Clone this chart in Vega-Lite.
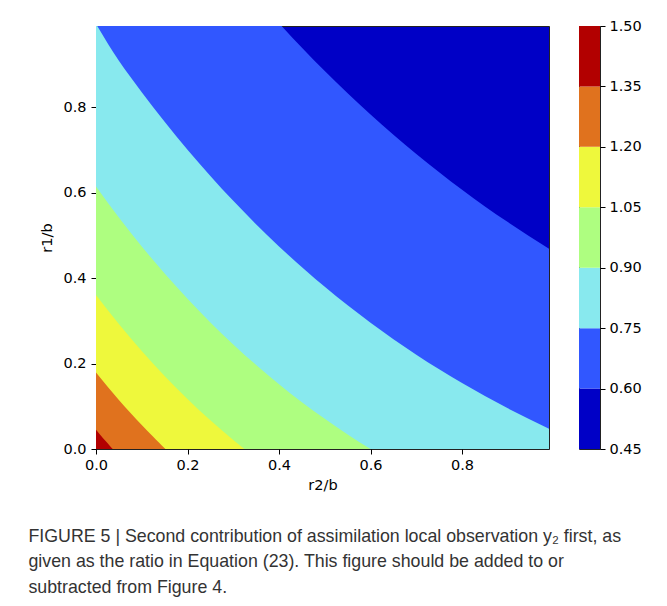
{
  "$schema": "https://vega.github.io/schema/vega-lite/v6.json",
  "background": "white",
  "padding": {"left": 28, "top": 17, "right": 5, "bottom": 5},
  "config": {
    "font": "DejaVu Sans",
    "axis": {"labelFont": "DejaVu Sans", "labelFontSize": 14.5, "labelColor": "#000", "titleFont": "DejaVu Sans", "titleFontSize": 14.5, "titleFontWeight": "normal", "titleColor": "#000", "tickColor": "#000", "tickSize": 5, "grid": false, "domain": false, "labelOverlap": false, "labelFlush": false},
    "view": {"stroke": "#222"}
  },
  "datasets": {
    "contours": [
      {"level": 0.6, "x": 0, "y": 1.567}, {"level": 0.6, "x": 0.1, "y": 1.404}, {"level": 0.6, "x": 0.2, "y": 1.2555}, {"level": 0.6, "x": 0.3, "y": 1.12}, {"level": 0.6, "x": 0.4, "y": 0.9966}, {"level": 0.6, "x": 0.5, "y": 0.8846}, {"level": 0.6, "x": 0.6, "y": 0.7829}, {"level": 0.6, "x": 0.7, "y": 0.6907}, {"level": 0.6, "x": 0.8, "y": 0.607}, {"level": 0.6, "x": 0.9, "y": 0.531}, {"level": 0.6, "x": 1.0, "y": 0.462},
      {"level": 0.75, "x": 0, "y": 0.995}, {"level": 0.75, "x": 0.05, "y": 0.9084}, {"level": 0.75, "x": 0.1, "y": 0.8352}, {"level": 0.75, "x": 0.2, "y": 0.7006}, {"level": 0.75, "x": 0.3, "y": 0.5808}, {"level": 0.75, "x": 0.4, "y": 0.4742}, {"level": 0.75, "x": 0.5, "y": 0.3795}, {"level": 0.75, "x": 0.6, "y": 0.2954}, {"level": 0.75, "x": 0.7, "y": 0.2207}, {"level": 0.75, "x": 0.8, "y": 0.1543}, {"level": 0.75, "x": 0.9, "y": 0.0951}, {"level": 0.75, "x": 1.0, "y": 0.0424},
      {"level": 0.9, "x": 0, "y": 0.6141}, {"level": 0.9, "x": 0.05, "y": 0.5418}, {"level": 0.9, "x": 0.1, "y": 0.474}, {"level": 0.9, "x": 0.15, "y": 0.4108}, {"level": 0.9, "x": 0.2, "y": 0.3516}, {"level": 0.9, "x": 0.25, "y": 0.2963}, {"level": 0.9, "x": 0.3, "y": 0.2447}, {"level": 0.9, "x": 0.35, "y": 0.1966}, {"level": 0.9, "x": 0.4, "y": 0.1517}, {"level": 0.9, "x": 0.45, "y": 0.1097}, {"level": 0.9, "x": 0.5, "y": 0.0706}, {"level": 0.9, "x": 0.55, "y": 0.0341}, {"level": 0.9, "x": 0.6, "y": 0},
      {"level": 1.05, "x": 0, "y": 0.3603}, {"level": 1.05, "x": 0.05, "y": 0.2924}, {"level": 1.05, "x": 0.1, "y": 0.2295}, {"level": 1.05, "x": 0.15, "y": 0.1711}, {"level": 1.05, "x": 0.2, "y": 0.1172}, {"level": 1.05, "x": 0.25, "y": 0.0672}, {"level": 1.05, "x": 0.3, "y": 0.021}, {"level": 1.05, "x": 0.3242, "y": 0},
      {"level": 1.2, "x": 0, "y": 0.179}, {"level": 1.2, "x": 0.025, "y": 0.1463}, {"level": 1.2, "x": 0.05, "y": 0.1149}, {"level": 1.2, "x": 0.075, "y": 0.0848}, {"level": 1.2, "x": 0.1, "y": 0.056}, {"level": 1.2, "x": 0.125, "y": 0.0284}, {"level": 1.2, "x": 0.15, "y": 0.0019}, {"level": 1.2, "x": 0.152, "y": 0},
      {"level": 1.35, "x": 0, "y": 0.045}, {"level": 1.35, "x": 0.01, "y": 0.0324}, {"level": 1.35, "x": 0.02, "y": 0.02}, {"level": 1.35, "x": 0.03, "y": 0.0078}, {"level": 1.35, "x": 0.0365, "y": 0}
    ],
    "colorbar": [
      {"level": 0.45, "hi": 0.6}, {"level": 0.6, "hi": 0.75}, {"level": 0.75, "hi": 0.9}, {"level": 0.9, "hi": 1.05}, {"level": 1.05, "hi": 1.2}, {"level": 1.2, "hi": 1.35}, {"level": 1.35, "hi": 1.5}
    ]
  },
  "title": {
    "text": ["FIGURE 5 | Second contribution of assimilation local observation y₂ first, as", "given as the ratio in Equation (23). This figure should be added to or", "subtracted from Figure 4."],
    "orient": "bottom", "anchor": "start", "frame": "bounds",
    "font": "Liberation Sans", "fontSize": 17.8, "fontWeight": "normal", "color": "#333",
    "lineHeight": 25.5, "offset": 35, "dx": -11
  },
  "spacing": 28,
  "resolve": {"scale": {"x": "independent", "y": "independent"}},
  "hconcat": [
    {
      "width": 453, "height": 423,
      "view": {"fill": "#0000C6", "stroke": "#222"},
      "data": {"name": "contours"},
      "encoding": {
        "x": {"field": "x", "type": "quantitative", "scale": {"domain": [0, 0.99], "nice": false, "zero": false}, "axis": {"values": [0, 0.2, 0.4, 0.6, 0.8], "format": ".1f", "title": "r2/b", "labelPadding": 4, "titlePadding": 7}},
        "y": {"field": "y", "type": "quantitative", "stack": null, "scale": {"domain": [0, 0.99], "nice": false, "zero": false}, "axis": {"values": [0, 0.2, 0.4, 0.6, 0.8], "format": ".1f", "title": "r1/b", "labelPadding": 5, "titlePadding": 8}},
        "color": {"field": "level", "type": "ordinal", "scale": {"domain": [0.45, 0.6, 0.75, 0.9, 1.05, 1.2, 1.35], "range": ["#0000C6", "#3157FF", "#88E9EE", "#AEFE80", "#EEF83C", "#E0721E", "#B20000"]}, "legend": null}
      },
      "layer": [
        {"transform": [{"filter": "datum.level == 0.6"}], "mark": {"type": "area", "orient": "vertical", "interpolate": "monotone", "clip": true}},
        {"transform": [{"filter": "datum.level == 0.75"}], "mark": {"type": "area", "orient": "vertical", "interpolate": "monotone", "clip": true}},
        {"transform": [{"filter": "datum.level == 0.9"}], "mark": {"type": "area", "orient": "vertical", "interpolate": "monotone", "clip": true}},
        {"transform": [{"filter": "datum.level == 1.05"}], "mark": {"type": "area", "orient": "vertical", "interpolate": "monotone", "clip": true}},
        {"transform": [{"filter": "datum.level == 1.2"}], "mark": {"type": "area", "orient": "vertical", "interpolate": "monotone", "clip": true}},
        {"transform": [{"filter": "datum.level == 1.35"}], "mark": {"type": "area", "orient": "vertical", "interpolate": "monotone", "clip": true}}
      ]
    },
    {
      "width": 21, "height": 423,
      "view": {"stroke": "#222"},
      "data": {"name": "colorbar"},
      "mark": {"type": "rect"},
      "encoding": {
        "y": {"field": "level", "type": "quantitative", "scale": {"domain": [0.45, 1.5], "nice": false, "zero": false}, "axis": {"orient": "right", "values": [0.45, 0.6, 0.75, 0.9, 1.05, 1.2, 1.35, 1.5], "format": ".2f", "title": null, "labelPadding": 4}},
        "y2": {"field": "hi"},
        "color": {"field": "level", "type": "ordinal", "legend": null}
      }
    }
  ]
}
